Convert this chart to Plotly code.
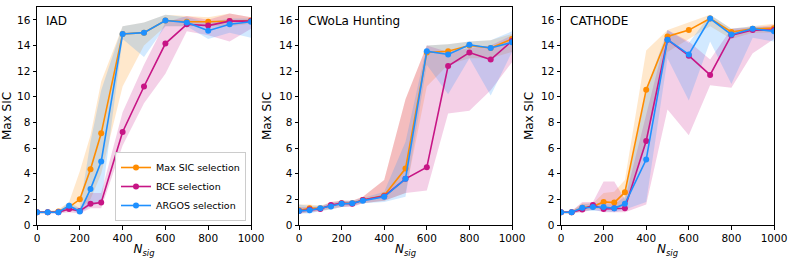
import plotly.graph_objects as go

n_sig = [0, 50, 100, 150, 200, 250, 300, 400, 500, 600, 700, 800, 900, 1000]
panels = ["IAD", "CWoLa Hunting", "CATHODE"]
methods = ["Max SIC selection", "BCE selection", "ARGOS selection"]
colors = ["#ff8c00", "#c71585", "#1e90ff"]
fills = ["rgba(255,140,0,0.2)", "rgba(199,21,133,0.2)", "rgba(30,144,255,0.2)"]

# IAD
iad_maxsic = [1.0, 1.0, 1.05, 1.4, 2.0, 4.35, 7.15, 14.9, 15.0, 15.95, 15.85, 15.85, 15.9, 15.95]
iad_maxsic_lo = [0.9, 0.9, 0.95, 1.1, 1.2, 2.0, 4.0, 10.8, 14.0, 15.5, 15.5, 15.5, 15.5, 15.7]
iad_maxsic_hi = [1.1, 1.1, 1.2, 1.8, 4.2, 7.0, 11.2, 15.5, 15.8, 16.4, 16.3, 16.2, 16.5, 16.2]
iad_bce = [1.0, 1.0, 1.0, 1.25, 1.1, 1.65, 1.75, 7.25, 10.8, 14.15, 15.65, 15.55, 15.9, 15.9]
iad_bce_lo = [0.9, 0.9, 0.9, 1.0, 0.9, 1.3, 1.3, 6.2, 9.5, 11.8, 15.1, 14.8, 14.3, 15.3]
iad_bce_hi = [1.1, 1.1, 1.1, 1.5, 1.3, 2.5, 2.5, 8.8, 12.5, 15.8, 16.3, 16.0, 16.5, 16.2]
iad_argos = [1.0, 1.0, 1.0, 1.5, 1.05, 2.8, 4.95, 14.9, 15.0, 15.95, 15.8, 15.15, 15.65, 15.85]
iad_argos_lo = [0.9, 0.9, 0.9, 1.2, 0.9, 1.5, 1.7, 14.5, 13.1, 15.5, 15.5, 14.5, 15.0, 14.6]
iad_argos_hi = [1.1, 1.1, 1.1, 1.8, 1.3, 6.5, 10.5, 15.5, 15.8, 16.4, 16.2, 15.8, 16.1, 16.1]

# CWoLa Hunting
cwola_maxsic = [1.15, 1.3, 1.3, 1.5, 1.7, 1.7, 1.95, 2.3, 4.4, 13.45, 13.55, 14.0, 13.8, 14.5]
cwola_maxsic_lo = [0.9, 1.0, 1.1, 1.2, 1.4, 1.5, 1.7, 1.9, 2.5, 10.8, 12.5, 13.0, 13.0, 13.5]
cwola_maxsic_hi = [1.6, 1.6, 1.5, 1.8, 1.9, 1.9, 2.2, 3.5, 9.8, 14.0, 14.1, 14.3, 14.4, 14.9]
cwola_bce = [1.1, 1.2, 1.25, 1.55, 1.7, 1.65, 1.95, 2.25, 3.6, 4.5, 12.4, 13.45, 12.9, 14.35]
cwola_bce_lo = [0.9, 1.0, 1.1, 1.3, 1.4, 1.4, 1.7, 1.9, 2.5, 2.7, 8.7, 8.9, 10.5, 12.7]
cwola_bce_hi = [1.4, 1.4, 1.4, 1.8, 1.9, 1.9, 2.2, 3.5, 9.8, 14.0, 13.5, 13.8, 14.0, 14.8]
cwola_argos = [1.1, 1.15, 1.3, 1.45, 1.65, 1.7, 1.9, 2.2, 3.6, 13.55, 13.3, 14.05, 13.8, 14.25]
cwola_argos_lo = [0.9, 0.9, 1.1, 1.2, 1.4, 1.5, 1.7, 1.8, 2.2, 12.5, 10.2, 13.0, 10.1, 13.5]
cwola_argos_hi = [1.6, 1.5, 1.5, 1.7, 1.9, 1.9, 2.1, 2.6, 6.5, 14.0, 14.1, 14.3, 14.4, 15.1]

# CATHODE
cath_maxsic = [1.0, 1.0, 1.35, 1.45, 1.8, 1.75, 2.55, 10.55, 14.7, 15.2, 16.1, 15.05, 15.3, 15.35]
cath_maxsic_lo = [0.9, 0.9, 1.1, 1.2, 1.3, 1.2, 1.5, 6.5, 13.5, 14.5, 15.5, 14.5, 15.0, 15.0]
cath_maxsic_hi = [1.1, 1.1, 1.7, 1.7, 2.5, 2.6, 3.5, 13.6, 15.2, 15.8, 16.4, 15.3, 15.5, 15.7]
cath_bce = [1.0, 1.0, 1.2, 1.55, 1.25, 1.3, 1.3, 6.55, 14.45, 13.2, 11.7, 14.8, 15.2, 15.2]
cath_bce_lo = [0.9, 0.9, 1.0, 1.2, 1.0, 1.0, 1.0, 1.6, 9.0, 7.0, 10.9, 10.7, 13.4, 14.5]
cath_bce_hi = [1.1, 1.1, 1.8, 1.8, 3.4, 3.4, 2.0, 8.5, 15.2, 14.3, 12.9, 15.3, 15.4, 15.6]
cath_argos = [1.0, 1.0, 1.35, 1.4, 1.4, 1.3, 1.65, 5.1, 14.45, 13.3, 16.1, 14.85, 15.3, 15.1]
cath_argos_lo = [0.9, 0.9, 1.1, 1.1, 1.1, 1.0, 1.2, 1.8, 13.0, 9.7, 14.3, 11.0, 14.6, 14.3]
cath_argos_hi = [1.1, 1.1, 1.6, 1.7, 1.7, 1.6, 2.2, 10.5, 15.2, 14.2, 16.4, 15.3, 15.5, 15.4]

data = [
    [(iad_maxsic, iad_maxsic_lo, iad_maxsic_hi), (iad_bce, iad_bce_lo, iad_bce_hi), (iad_argos, iad_argos_lo, iad_argos_hi)],
    [(cwola_maxsic, cwola_maxsic_lo, cwola_maxsic_hi), (cwola_bce, cwola_bce_lo, cwola_bce_hi), (cwola_argos, cwola_argos_lo, cwola_argos_hi)],
    [(cath_maxsic, cath_maxsic_lo, cath_maxsic_hi), (cath_bce, cath_bce_lo, cath_bce_hi), (cath_argos, cath_argos_lo, cath_argos_hi)],
]

W, H = 793, 264
x_domains = [(37 / W, 251 / W), (299 / W, 512 / W), (561 / W, 774 / W)]
y_domain = (1 - 225 / H, 1 - 7 / H)

fig = go.Figure()
font = "DejaVu Sans"

for p in range(3):
    suffix = "" if p == 0 else str(p + 1)
    xa, ya = "x" + suffix, "y" + suffix
    for m in range(3):
        mean, lo, hi = data[p][m]
        fig.add_trace(go.Scatter(
            x=n_sig + n_sig[::-1], y=hi + lo[::-1], fill="toself",
            fillcolor=fills[m], line=dict(width=0), mode="lines",
            hoverinfo="skip", showlegend=False, xaxis=xa, yaxis=ya))
    for m in range(3):
        mean, lo, hi = data[p][m]
        fig.add_trace(go.Scatter(
            x=n_sig, y=mean, mode="lines+markers", name=methods[m],
            line=dict(color=colors[m], width=1.6),
            marker=dict(color=colors[m], size=6),
            showlegend=(p == 0), xaxis=xa, yaxis=ya))
    axis_common = dict(showline=True, linecolor="black", linewidth=1, mirror=True,
                       ticks="outside", ticklen=3.5, tickcolor="black", showgrid=False,
                       zeroline=False, automargin=False,
                       tickfont=dict(size=10.5, color="black", family=font))
    fig.layout["xaxis" + suffix] = dict(
        domain=x_domains[p], anchor=ya, range=[0, 1000], tickvals=[0, 200, 400, 600, 800, 1000],
        title=dict(text="<i>N</i><sub><i>sig</i></sub>", font=dict(size=12, color="black", family=font), standoff=1),
        **axis_common)
    fig.layout["yaxis" + suffix] = dict(
        domain=y_domain, anchor=xa, range=[0, 17], tickvals=list(range(0, 17, 2)),
        title=dict(text="Max SIC", font=dict(size=12, color="black", family=font), standoff=4),
        **axis_common)
    fig.add_annotation(x=x_domains[p][0] + 7 / W, y=y_domain[1] - 5 / H, xref="paper", yref="paper",
                       text=panels[p], showarrow=False, xanchor="left", yanchor="top",
                       font=dict(size=12, color="black", family=font))

fig.update_layout(
    width=W, height=H, margin=dict(l=0, r=0, t=0, b=0, autoexpand=False),
    paper_bgcolor="white", plot_bgcolor="white",
    legend=dict(x=246 / W, y=1 - 221 / H, xanchor="right", yanchor="bottom",
                bgcolor="rgba(255,255,255,0.85)", bordercolor="#cccccc", borderwidth=1,
                font=dict(size=9.5, color="black", family=font), tracegroupgap=0,
                itemwidth=30),
    font=dict(family=font),
)

fig.write_html("out.html", config={"displayModeBar": False},
               post_script="document.body.style.margin='0';")
